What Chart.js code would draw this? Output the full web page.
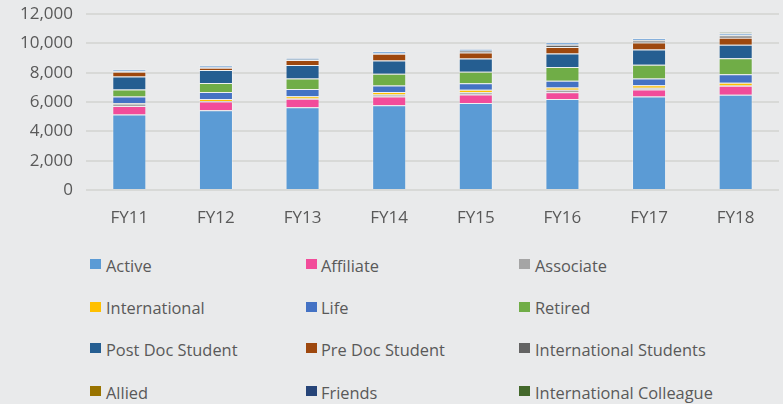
<!DOCTYPE html>
<html>
<head>
<meta charset="utf-8">
<script src="https://cdn.jsdelivr.net/npm/chart.js@4.4.1/dist/chart.umd.min.js"></script>
<style>
  html, body { margin: 0; padding: 0; background: #e9eaeb; }
  #wrap { position: relative; width: 783px; height: 404px; overflow: hidden; background: #e9eaeb; }
  #c { position: absolute; left: 0; top: 0; }
  .lg { position: absolute; height: 20px; line-height: 20px; font-family: "Open Sans", sans-serif; font-size: 16.4px; color: #595959; white-space: nowrap; }
  .sw { position: absolute; width: 11px; height: 10px; }
</style>
</head>
<body>
<div id="wrap">
  <canvas id="c" width="783" height="240"></canvas>
  <div id="legend"></div>
</div>
<script>
const categories = ["FY11", "FY12", "FY13", "FY14", "FY15", "FY16", "FY17", "FY18"];
const yTicks = [0, 2000, 4000, 6000, 8000, 10000, 12000];

const active        = [5150, 5430, 5650, 5780, 5940, 6210, 6370, 6500];
const affiliate     = [570, 610, 570, 590, 570, 460, 480, 610];
const associate     = [180, 20, 20, 140, 160, 160, 120, 20];
const international = [20, 140, 160, 180, 160, 160, 180, 180];
const life          = [450, 480, 480, 430, 455, 455, 450, 590];
const retired       = [480, 610, 730, 800, 775, 935, 935, 1090];
const postDoc       = [890, 890, 910, 910, 910, 930, 1045, 910];
const preDoc        = [320, 150, 340, 455, 410, 435, 480, 480];
const intStudents   = [20, 20, 10, 20, 110, 160, 140, 160];
const allied        = [5, 5, 5, 5, 5, 5, 5, 5];
const friends       = [5, 5, 5, 5, 5, 5, 5, 5];
const unlisted      = [140, 150, 140, 160, 110, 170, 160, 140];
const intColleague  = [0, 0, 0, 0, 0, 0, 0, 60];

const series = [
  { label: "Active", data: active, color: "#5B9BD5" },
  { label: "Affiliate", data: affiliate, color: "#F24C9A" },
  { label: "Associate", data: associate, color: "#A5A5A5" },
  { label: "International", data: international, color: "#FFC000" },
  { label: "Life", data: life, color: "#4472C4" },
  { label: "Retired", data: retired, color: "#70AD47" },
  { label: "Post Doc Student", data: postDoc, color: "#255E91" },
  { label: "Pre Doc Student", data: preDoc, color: "#9E480E" },
  { label: "International Students", data: intStudents, color: "#636363" },
  { label: "Allied", data: allied, color: "#997300" },
  { label: "Friends", data: friends, color: "#264478" },
  { label: "", data: unlisted, color: "#86B0DC" },
  { label: "International Colleague", data: intColleague, color: "#43682B" }
];

const legendOrder = ["Active","Affiliate","Associate","International","Life","Retired",
  "Post Doc Student","Pre Doc Student","International Students","Allied","Friends","International Colleague"];

const chart = new Chart(document.getElementById("c"), {
  type: "bar",
  data: {
    labels: categories,
    datasets: series.map(s => ({
      label: s.label,
      data: s.data,
      backgroundColor: s.color,
      borderColor: "rgba(255,255,255,0.28)",
      borderWidth: 1,
      barPercentage: 0.393,
      categoryPercentage: 1.0
    }))
  },
  options: {
    responsive: false,
    animation: false,
    maintainAspectRatio: false,
    layout: { padding: { top: 14, right: 4, left: 0, bottom: 0 } },
    plugins: { legend: { display: false }, tooltip: { enabled: false } },
    scales: {
      x: {
        stacked: true,
        grid: { display: false },
        border: { display: false },
        ticks: { padding: 10, color: "#595959", font: { family: "Open Sans", size: 17 } },
        afterFit: s => { s.height = 50; s.paddingLeft = 0; s.paddingRight = 0; }
      },
      y: {
        stacked: true,
        min: 0,
        max: 12000,
        afterBuildTicks: s => { s.ticks = yTicks.map(v => ({ value: v })); },
        ticks: {
          padding: 13,
          color: "#595959",
          font: { family: "Open Sans", size: 17 },
          callback: v => v.toLocaleString("en-US")
        },
        grid: { color: "#d8d9d7", lineWidth: 2, drawTicks: false },
        border: { display: false },
        afterFit: s => { s.width = 86; s.paddingTop = 0; s.paddingBottom = 0; }
      }
    }
  }
});

// HTML legend built from the chart's datasets
const lg = document.getElementById("legend");
const colText = [106, 321, 535];
const colSw = [90, 306, 519];
const rowY = [266.7, 309.3, 350.5, 393.5];
legendOrder.forEach((name, i) => {
  const ds = chart.data.datasets.find(d => d.label === name);
  const r = Math.floor(i / 3), c = i % 3;
  const sw = document.createElement("div");
  sw.className = "sw";
  sw.style.left = colSw[c] + "px";
  sw.style.top = (rowY[r] - 7.5) + "px";
  sw.style.background = ds.backgroundColor;
  lg.appendChild(sw);
  const t = document.createElement("div");
  t.className = "lg";
  t.style.left = colText[c] + "px";
  t.style.top = (rowY[r] - 11) + "px";
  t.textContent = ds.label;
  lg.appendChild(t);
});
</script>
</body>
</html>
